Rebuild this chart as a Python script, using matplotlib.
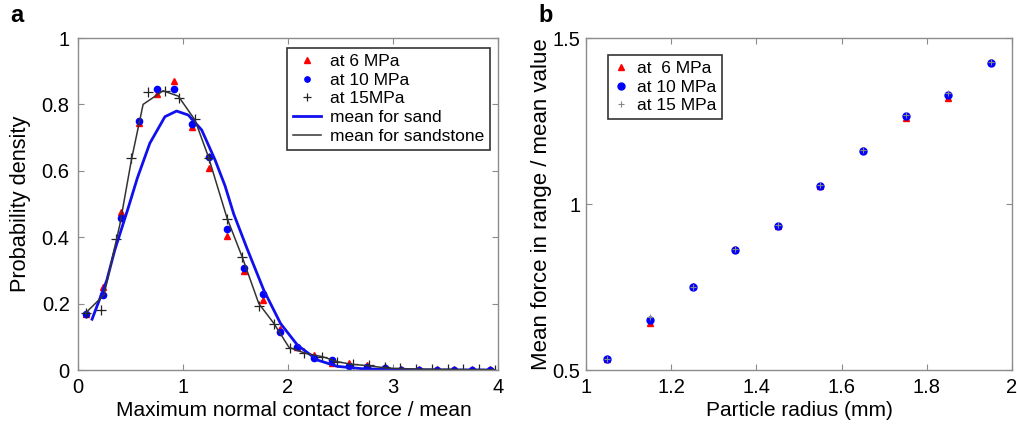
import matplotlib
matplotlib.use("Agg")
import matplotlib.pyplot as plt
from matplotlib.ticker import FixedLocator, FuncFormatter

plt.rcParams['font.family'] = ['Liberation Sans', 'DejaVu Sans']

# ---------------- panel a data ----------------
x_bins = [0.073, 0.242, 0.41, 0.583, 0.75, 0.917, 1.086, 1.25, 1.417, 1.58, 1.76, 1.925,
          2.09, 2.25, 2.42, 2.58, 2.75, 2.92, 3.08, 3.25, 3.42, 3.58, 3.75, 3.92]
p6 = [0.17, 0.249, 0.475, 0.745, 0.83, 0.871, 0.733, 0.608, 0.405, 0.298, 0.212, 0.123,
      0.07, 0.045, 0.02, 0.022, 0.015, 0.01, 0.003, 0.003, 0.002, 0.002, 0.002, 0.003]
p10 = [0.17, 0.226, 0.459, 0.751, 0.847, 0.847, 0.74, 0.642, 0.425, 0.306, 0.228, 0.115,
       0.07, 0.035, 0.03, 0.013, 0.01, 0.005, 0.001, 0.001, 0.001, 0.001, 0.001, 0.001]
x15 = [0.073, 0.223, 0.366, 0.506, 0.665, 0.825, 0.965, 1.117, 1.25, 1.42, 1.566, 1.72,
       1.866, 2.018, 2.15, 2.32, 2.47, 2.62, 2.77, 2.92, 3.07, 3.22, 3.37, 3.52, 3.67, 3.82, 3.97]
p15 = [0.172, 0.181, 0.395, 0.639, 0.837, 0.84, 0.82, 0.757, 0.64, 0.455, 0.341, 0.193,
       0.139, 0.067, 0.05, 0.04, 0.025, 0.018, 0.014, 0.008, 0.005, 0.004, 0.003, 0.003,
       0.002, 0.002, 0.001]
sand_x = [0.134, 0.274, 0.35, 0.48, 0.565, 0.684, 0.828, 0.939, 1.05, 1.178, 1.305, 1.40,
          1.483, 1.611, 1.77, 1.929, 2.09, 2.28, 2.47, 2.7, 3.0, 3.5, 3.95]
sand_y = [0.153, 0.27, 0.361, 0.49, 0.578, 0.683, 0.763, 0.780, 0.768, 0.723, 0.633, 0.555,
          0.47, 0.365, 0.24, 0.14, 0.075, 0.03, 0.011, 0.004, 0.001, 0.0, 0.0]
stone_x = [0.07, 0.248, 0.40, 0.51, 0.62, 0.81, 0.955, 1.114, 1.242, 1.42, 1.563, 1.722,
           1.866, 2.01, 2.17, 2.33, 2.47, 2.61, 2.77, 2.93, 3.08, 3.23, 3.38, 3.53, 3.68,
           3.83, 3.97]
stone_y = [0.171, 0.226, 0.44, 0.635, 0.80, 0.841, 0.825, 0.753, 0.642, 0.457, 0.341, 0.2,
           0.14, 0.068, 0.05, 0.04, 0.025, 0.017, 0.013, 0.006, 0.004, 0.003, 0.002, 0.002,
           0.001, 0.001, 0.001]

# ---------------- panel b data ----------------
radius = [1.05, 1.15, 1.25, 1.35, 1.45, 1.55, 1.65, 1.75, 1.85, 1.95]
b6 = [0.532, 0.642, 0.752, 0.863, 0.934, 1.054, 1.162, 1.258, 1.320, 1.429]
b10 = [0.532, 0.652, 0.749, 0.861, 0.934, 1.054, 1.161, 1.265, 1.328, 1.425]
b15 = [0.534, 0.660, 0.751, 0.864, 0.936, 1.056, 1.163, 1.268, 1.333, 1.427]

xticks_a = [0, 1, 2, 3, 4]
yticks_a = [0, 0.2, 0.4, 0.6, 0.8, 1]
xticks_b = [1, 1.2, 1.4, 1.6, 1.8, 2]
yticks_b = [0.5, 1, 1.5]

GREY = '#8c8c8c'


def fmt(v, pos=None):
    s = ('%.2f' % v).rstrip('0').rstrip('.')
    return s


def style(ax):
    for sp in ax.spines.values():
        sp.set_color(GREY)
        sp.set_linewidth(1.0)
    ax.tick_params(direction='in', which='both', top=True, right=True,
                   color=GREY, length=4, width=0.8, labelsize=14.5, labelcolor='black',
                   pad=6)
    ax.xaxis.set_major_formatter(FuncFormatter(fmt))
    ax.yaxis.set_major_formatter(FuncFormatter(fmt))


fig = plt.figure(figsize=(10.17, 4.29), dpi=100)

ax1 = fig.add_axes([78 / 1017, 59 / 429, 420 / 1017, 332 / 429])
ax1.plot(x_bins, p6, linestyle='none', marker='^', color='#ff0000', markersize=5)
ax1.plot(x_bins, p10, linestyle='none', marker='o', color='#0000ff', markersize=4.5)
ax1.plot(x15, p15, linestyle='none', marker='+', color='#222222', markersize=7, mew=0.9)
ax1.plot(sand_x, sand_y, color='#1010ee', linewidth=2.0)
ax1.plot(stone_x, stone_y, color='#333333', linewidth=1.1)
ax1.set_xlim(0, 4)
ax1.set_ylim(0, 1)
ax1.xaxis.set_major_locator(FixedLocator(xticks_a))
ax1.yaxis.set_major_locator(FixedLocator(yticks_a))
style(ax1)
ax1.set_xlabel('Maximum normal contact force / mean', fontsize=15)
ax1.xaxis.set_label_coords(0.514, -0.092)
ax1.set_ylabel('Probability density', fontsize=15.7)
ax1.yaxis.set_label_coords(-0.112, 0.5)
leg1 = ax1.legend(['at 6 MPa', 'at 10 MPa', 'at 15MPa', 'mean for sand', 'mean for sandstone'],
                  loc='upper right', bbox_to_anchor=(0.981, 0.97), fontsize=12.5,
                  frameon=True, fancybox=False, edgecolor='black', handlelength=1.6,
                  handletextpad=0.5, borderpad=0.35, labelspacing=0.2, markerscale=0.85,
                  borderaxespad=0.0)
leg1.get_frame().set_linewidth(1.2)
fig.text(10 / 1017, 1 - 22 / 429, 'a', fontsize=17, fontweight='bold')

ax2 = fig.add_axes([586 / 1017, 59 / 429, 426 / 1017, 332 / 429])
ax2.plot(radius, b6, linestyle='none', marker='^', color='#ff0000', markersize=5)
ax2.plot(radius, b10, linestyle='none', marker='o', color='#0000ff', markersize=5)
ax2.plot(radius, b15, linestyle='none', marker='+', color='#888888', markersize=5, mew=0.8)
ax2.set_xlim(1, 2)
ax2.set_ylim(0.5, 1.5)
ax2.xaxis.set_major_locator(FixedLocator(xticks_b))
ax2.yaxis.set_major_locator(FixedLocator(yticks_b))
style(ax2)
ax2.tick_params(axis='y', pad=4)
ax2.set_xlabel('Particle radius (mm)', fontsize=15)
ax2.xaxis.set_label_coords(0.5, -0.092)
ax2.set_ylabel('Mean force in range / mean value', fontsize=16)
ax2.yaxis.set_label_coords(-0.079, 0.5)
leg2 = ax2.legend(['at  6 MPa', 'at 10 MPa', 'at 15 MPa'], loc='upper left',
                  bbox_to_anchor=(0.052, 0.949), fontsize=12.5, frameon=True, fancybox=False,
                  edgecolor='black', handlelength=0.8, handletextpad=0.5, borderpad=0.35,
                  labelspacing=0.2, borderaxespad=0.0)
leg2.get_frame().set_linewidth(1.2)
fig.text(538 / 1017, 1 - 22 / 429, 'b', fontsize=17, fontweight='bold')

fig.savefig('out.png', dpi=100)
